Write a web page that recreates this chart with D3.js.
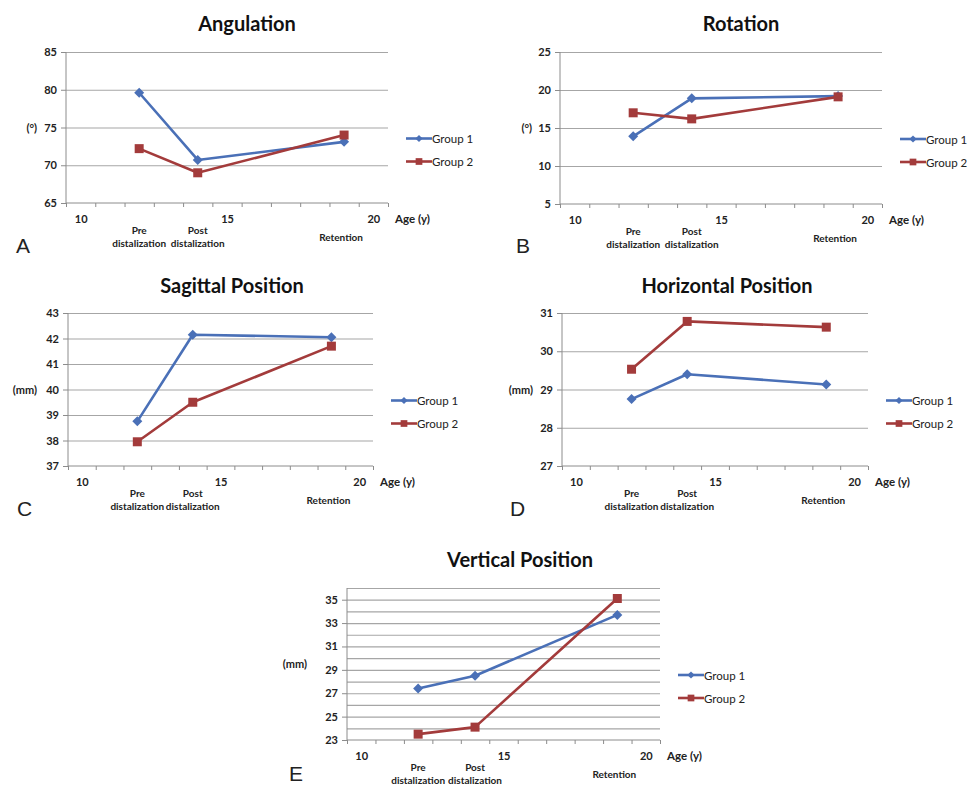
<!DOCTYPE html>
<html><head><meta charset="utf-8">
<script src="https://cdn.jsdelivr.net/npm/d3@7"></script>
<style>
body{margin:0;background:#fff}
svg{display:block}
</style>
</head><body>
<script>
// ages where the three stages were measured, and their labels
var ages=[12,14,19];
var stages=[["Pre","distalization"],["Post","distalization"],["Retention"]];
var groups=["Group 1","Group 2"];
var xLabels=[10,15,20];
var xBounds=[9.5,10.5,11.5,12.5,13.5,14.5,15.5,16.5,17.5,18.5,19.5,20.5];

var angulation1=[79.6,70.7,73.1], angulation2=[72.2,69.0,74.0];
var rotation1=[13.9,18.9,19.2], rotation2=[17.0,16.2,19.1];
var sagittal1=[38.75,42.15,42.05], sagittal2=[37.95,39.5,41.7];
var horizontal1=[28.75,29.4,29.13], horizontal2=[29.53,30.78,30.63];
var vertical1=[27.4,28.5,33.7], vertical2=[23.5,24.1,35.1];

var angulationTicks=[65,70,75,80,85];
var rotationTicks=[5,10,15,20,25];
var sagittalTicks=[37,38,39,40,41,42,43];
var horizontalTicks=[27,28,29,30,31];
var verticalTicks=[23,25,27,29,31,33,35];
var verticalGrid=[24,25,26,27,28,29,30,31,32,33,34,35,36];

var colors=["#4a70b7","#a33b3b"], gridColor="#a6a6a6", axisColor="#8c8c8c";
var font="Lato, 'Open Sans', sans-serif";

var svg=d3.select("body").append("svg").attr("width",968).attr("height",787);

var panels=[
	{title:"Angulation",unit:"(°)",letter:"A",d1:angulation1,d2:angulation2,ticks:angulationTicks,dom:[65,85],
	 x0:66,x1:388,y0:52,y1:203,titleX:247,titleY:31,unitX:37,letterX:16,letterY:253},
	{title:"Rotation",unit:"(°)",letter:"B",d1:rotation1,d2:rotation2,ticks:rotationTicks,dom:[5,25],
	 x0:560,x1:882,y0:52,y1:204,titleX:741,titleY:31,unitX:532,letterX:516,letterY:253},
	{title:"Sagittal Position",unit:"(mm)",letter:"C",d1:sagittal1,d2:sagittal2,ticks:sagittalTicks,dom:[37,43],
	 x0:68,x1:373,y0:313,y1:466,titleX:232,titleY:293,unitX:37,letterX:17,letterY:516},
	{title:"Horizontal Position",unit:"(mm)",letter:"D",d1:horizontal1,d2:horizontal2,ticks:horizontalTicks,dom:[27,31],
	 x0:562,x1:868,y0:313,y1:466,titleX:727,titleY:293,unitX:533,letterX:510,letterY:516},
	{title:"Vertical Position",unit:"(mm)",letter:"E",d1:vertical1,d2:vertical2,ticks:verticalTicks,grid:verticalGrid,dom:[23,36],
	 x0:347,x1:660,y0:588,y1:740,titleX:520,titleY:567,unitX:307,letterX:289,letterY:781}
];

panels.forEach(drawPanel);

function drawPanel(p){
	var g=svg.append("g");
	var x=d3.scaleLinear().domain([9.5,20.5]).range([p.x0,p.x1]);
	var y=d3.scaleLinear().domain(p.dom).range([p.y1,p.y0]);

	g.append("text").attr("x",p.titleX).attr("y",p.titleY).attr("text-anchor","middle")
		.style("font-family",font).style("font-weight","bold").style("font-size","20px").style("fill","#111")
		.text(p.title);

	// gridlines
	var grid=g.append("g").attr("transform","translate("+p.x0+",0)")
		.call(d3.axisLeft(y).tickValues((p.grid||p.ticks).filter(function(t){return t!=p.dom[0];})).tickSize(-(p.x1-p.x0)).tickFormat(""));
	grid.select(".domain").remove();
	grid.selectAll("line").attr("stroke",gridColor).attr("stroke-width",1.2);

	// y axis
	var ya=g.append("g").attr("transform","translate("+p.x0+",0)")
		.call(d3.axisLeft(y).tickValues(p.ticks).tickFormat(d3.format("d")).tickSize(5).tickPadding(4));
	ya.select(".domain").attr("stroke",axisColor).attr("d","M0,"+p.y0+"V"+p.y1);
	ya.selectAll("line").attr("stroke",axisColor);
	ya.selectAll("text").style("font-family",font).style("font-weight","bold").style("font-size","11px").style("fill","#222");

	// x axis
	var xa=g.append("g").attr("transform","translate(0,"+p.y1+")")
		.call(d3.axisBottom(x).tickValues(xBounds).tickSize(4).tickFormat(""));
	xa.select(".domain").attr("stroke",axisColor).attr("d","M"+p.x0+",0H"+p.x1);
	xa.selectAll("line").attr("stroke",axisColor);
	var xl=g.append("g").attr("transform","translate(0,"+p.y1+")")
		.call(d3.axisBottom(x).tickValues(xLabels).tickFormat(d3.format("d")).tickSize(0).tickPadding(12));
	xl.select(".domain").remove();
	xl.selectAll("text").style("font-family",font).style("font-weight","bold").style("font-size","11px").style("fill","#222");

	g.append("text").attr("x",p.x1+7).attr("y",p.y1+20)
		.style("font-family",font).style("font-weight","bold").style("font-size","11.5px").style("fill","#222")
		.text("Age (y)");

	stages.forEach(function(s,i){
		var t=g.append("text").attr("text-anchor","middle")
			.style("font-family",font).style("font-weight","bold").style("font-size","10px").style("fill","#222");
		if(s.length==2){
			t.append("tspan").attr("x",x(ages[i])).attr("y",p.y1+31).text(s[0]);
			t.append("tspan").attr("x",x(ages[i])).attr("y",p.y1+44).text(s[1]);
		}else{
			t.append("tspan").attr("x",x(ages[i])-3).attr("y",p.y1+38).text(s[0]);
		}
	});

	g.append("text").attr("x",p.unitX).attr("y",(p.y0+p.y1)/2+4).attr("text-anchor","end")
		.style("font-family",font).style("font-weight","bold").style("font-size","11px").style("fill","#222")
		.text(p.unit);

	g.append("text").attr("x",p.letterX).attr("y",p.letterY)
		.style("font-family","'Liberation Sans', Arial, sans-serif").style("font-size","21px").style("fill","#222")
		.text(p.letter);

	var line=d3.line().x(function(d,i){return x(ages[i]);}).y(function(d){return y(d);});
	[p.d1,p.d2].forEach(function(data,k){
		g.append("path").datum(data).attr("d",line).attr("fill","none")
			.attr("stroke",colors[k]).attr("stroke-width",2.6).attr("stroke-linejoin","round");
		g.selectAll(null).data(data).enter().append("path")
			.attr("d",d3.symbol(d3.symbolSquare,k==0?50:81)())
			.attr("transform",function(d,i){return "translate("+x(ages[i])+","+y(d)+")"+(k==0?" rotate(45)":"");})
			.attr("fill",colors[k]);
	});

	// legend
	var lx=p.x1+18, ly=(p.y0+p.y1)/2+11;
	groups.forEach(function(name,k){
		var yy=ly+k*23;
		g.append("line").attr("x1",lx).attr("x2",lx+26).attr("y1",yy).attr("y2",yy)
			.attr("stroke",colors[k]).attr("stroke-width",2.6);
		g.append("path").attr("d",d3.symbol(d3.symbolSquare,k==0?26:45)())
			.attr("transform","translate("+(lx+13)+","+yy+")"+(k==0?" rotate(45)":""))
			.attr("fill",colors[k]);
		g.append("text").attr("x",lx+26).attr("y",yy+4.5)
			.style("font-family",font).style("font-size","11.5px").style("fill","#222")
			.text(name);
	});
}
</script>
</body></html>
